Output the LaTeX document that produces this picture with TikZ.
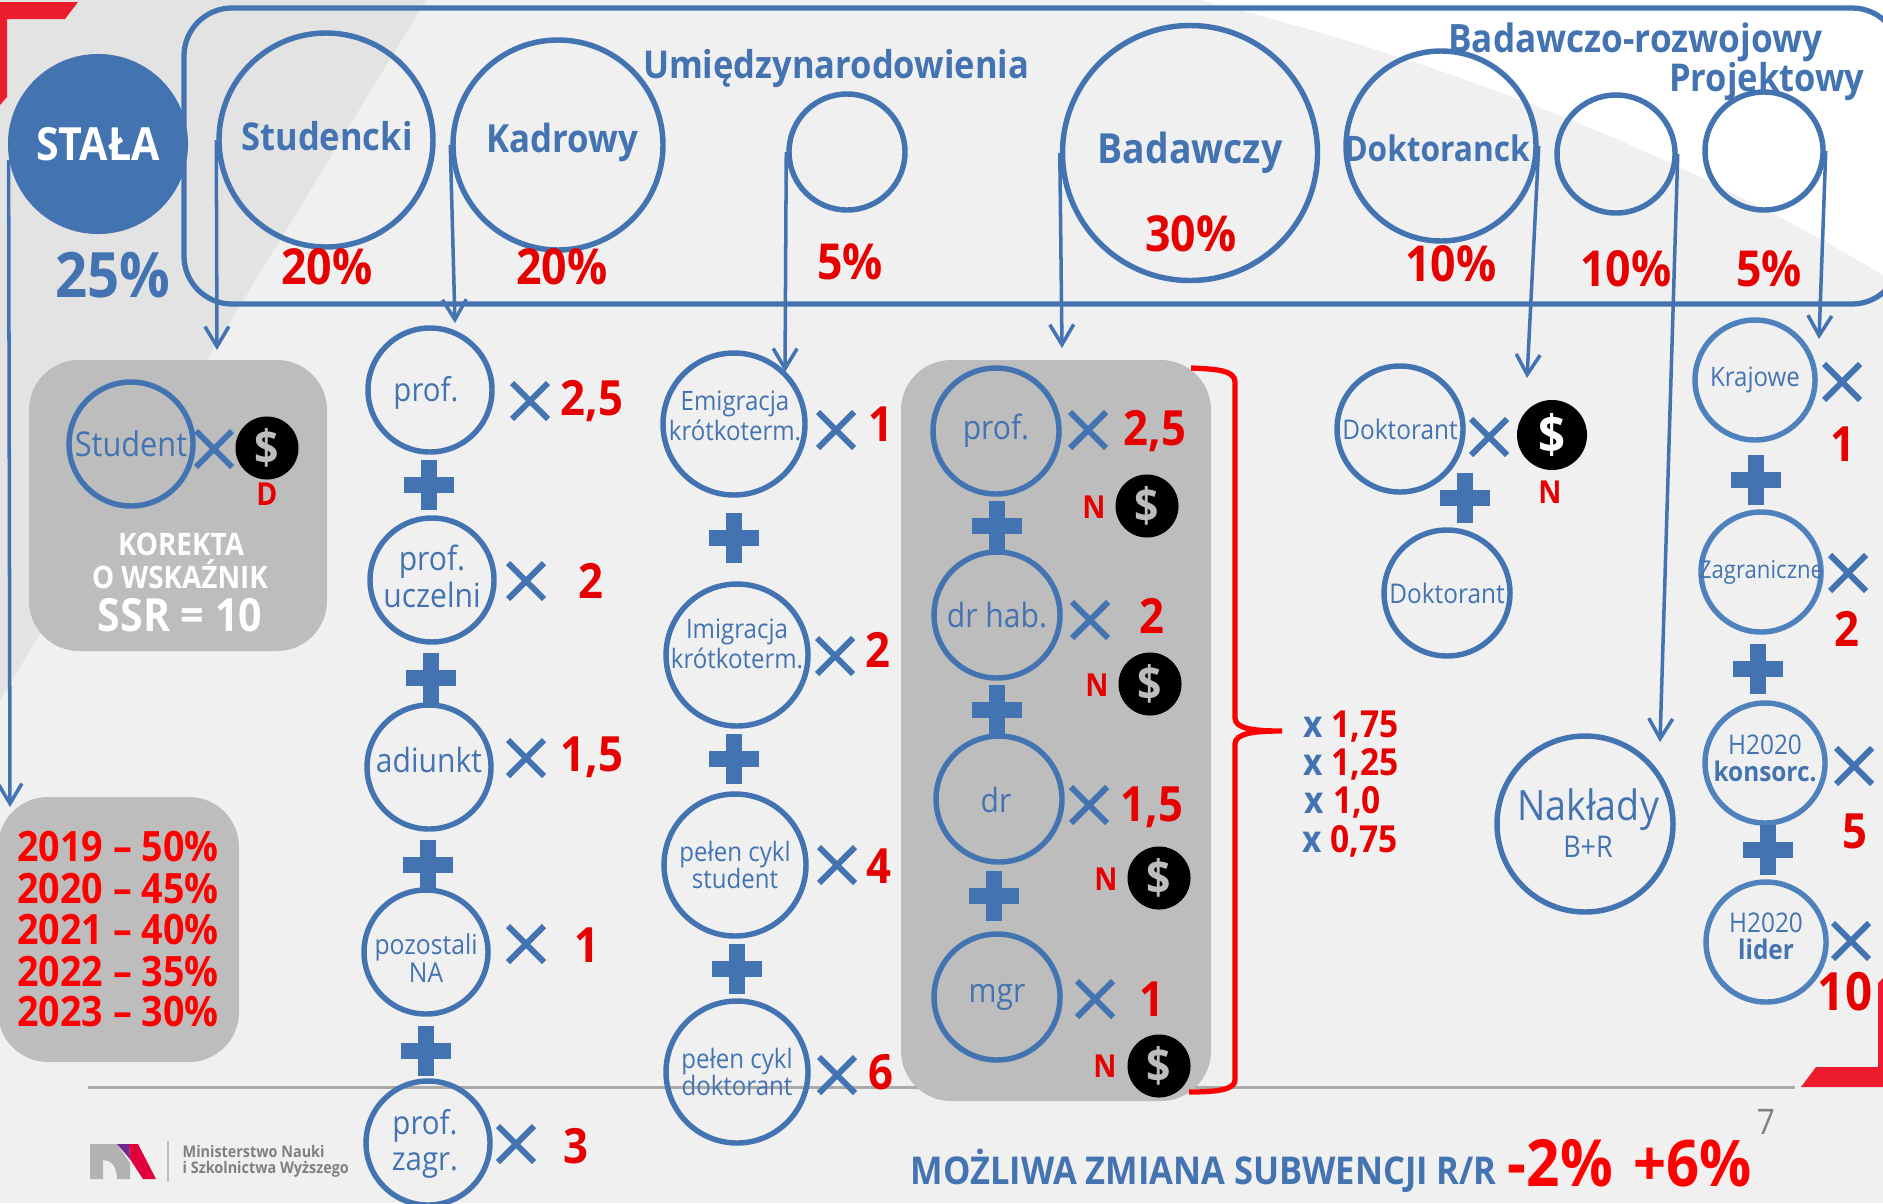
\documentclass[tikz,border=0pt]{standalone}
\usepackage{fontspec}
\setmainfont[FakeStretch=0.9]{Open Sans}
\usetikzlibrary{arrows.meta,shapes.misc}
\definecolor{bluemain}{HTML}{4373B1}
\definecolor{bluelight}{HTML}{4F81BD}
\definecolor{redmain}{HTML}{E60000}
\definecolor{redpure}{HTML}{FF0000}
\definecolor{redbar}{HTML}{EC1C2D}
\definecolor{greybox}{HTML}{BDBDBD}
\newcommand{\fsz}[1]{\fontsize{#1pt}{#1pt}\selectfont}
\tikzset{
  ring/.style={circle,draw=bluemain,line width=1.55pt,inner sep=0pt,text=bluemain,align=center,minimum size=#1*0.01cm},
  ringlight/.style={ring=#1,draw=bluelight},
  ringtxt/.style={text=bluemain,align=center,inner sep=0pt},
  title/.style={text=bluemain,font=\fsz{10.9}\bfseries,inner sep=0pt},
  percent/.style={text=redmain,font=\fsz{14.1}\bfseries,inner sep=0pt},
  val/.style={text=redmain,font=\fsz{13.8}\bfseries,inner sep=0pt},
  letter/.style={text=redmain,font=\fsz{9}\bfseries,inner sep=0pt},
  times/.style={cross out,draw=bluemain,line width=1.7pt,minimum size=0.3cm,inner sep=0pt},
  dollar/.style={circle,fill=black,text=#1,inner sep=0pt,minimum size=0.63cm,font=\fsz{13.5}\bfseries},
  arr/.style={draw=bluemain,line width=1pt,-{Straight Barb[length=5.7pt,width=6.8pt]}},
  plusmark/.pic={\fill[bluemain] (-25,-8) rectangle (25,8); \fill[bluemain] (-8,-25) rectangle (8,25);},
  year/.style={text=redpure,font=\fsz{11.9}\bfseries,inner sep=0pt},
  factor/.style={text=redmain,font=\fsz{10.6}\bfseries,inner sep=0pt}
}
\begin{document}
\begin{tikzpicture}[x=0.01cm,y=-0.01cm]
\useasboundingbox (0,0) rectangle (1883,1203);
\clip (0,0) rectangle (1883,1203);
\fill[fill={rgb,255:red,240;green,240;blue,240}] (0,0) rectangle (1883,1203);
\fill[fill={rgb,255:red,228;green,227;blue,228}] (0,0) -- (426,0) -- (0,700) -- cycle;
\fill[white] (1200,0) .. controls (1400,50) and (1640,130) .. (1883,275) -- (1883,0) -- cycle;
\fill[redbar] (0,2) -- (78,2) -- (65,19) -- (7,19) -- (7,97) -- (0,105) -- cycle;
\fill[redbar] (1883,978) -- (1878,983) -- (1878,1067) -- (1816,1067) -- (1801,1087) -- (1883,1087) -- cycle;
\draw[greybox!90!black,line width=.85pt] (88,1087) -- (1795,1087);

\draw[bluemain,line width=1.5pt,rounded corners=48*0.01cm] (184,8) rectangle (1900,304);
\fill[greybox,rounded corners=0.5cm] (29,360) rectangle (327,651);
\fill[greybox,rounded corners=0.5cm] (-2,797) rectangle (239,1062);
\fill[greybox,rounded corners=0.5cm] (901,360) rectangle (1211,1101);

\node[circle,fill=bluemain,text=white,inner sep=0pt,minimum size=1.8cm,font=\fsz{13}\bfseries] (stala) at (98,144) {STAŁA};
\node[ring=214] (studencki) at (326,140) {};
\node[ring=210] (kadrowy) at (558,145) {};
\node[ring=116] (umiedzy) at (847,152) {};
\node[ring=255,title,font=\fsz{11.8}\bfseries] (badawczy) at (1190,153) {Badawczy};
\node[ring=190] (doktorancki) at (1441,146) {};
\node[ring=118] (rozwojowy) at (1616,154) {};
\node[ring=118] (projektowy) at (1764,151) {};
\node[title] (studenckitxt) at (327,136) {Studencki};
\node[title,font=\fsz{11}\bfseries] (kadrowytxt) at (562,142) {Kadrowy};
\node[title,font=\fsz{10}\bfseries] (doktorancktxt) at (1437,148) {Doktoranck};
\node[title] (umiedzytxt) at (836,69) {Umiędzynarodowienia};
\node[title,font=\fsz{11.1}\bfseries,anchor=east] (rozwojtxt) at (1823,42) {Badawczo-rozwojowy};
\node[title,font=\fsz{10.9}\bfseries,anchor=east] (projekttxt) at (1865,82) {Projektowy};

\node[title,font=\fsz{17.8}\bfseries] (p25) at (113,275) {25\%};
\node[percent] (p20a) at (327,267) {20\%};
\node[percent] (p20b) at (562,267) {20\%};
\node[percent] (p5a) at (850,262) {5\%};
\node[percent] (p30) at (1191,234) {30\%};
\node[percent] (p10a) at (1451,264) {10\%};
\node[percent] (p10b) at (1626,269) {10\%};
\node[percent] (p5b) at (1769,269) {5\%};

\node[ring=124,font=\fsz{9.7}] (student) at (131,444) {Student};
\node[times] (xstudent) at (214,449) {};
\node[dollar=greybox] (dstudent) at (267,448) {\$};
\node[letter] (dletter) at (267,494) {D};
\node[text=white,font=\fsz{8.8}\bfseries,inner sep=0pt] (korekta) at (181,544) {KOREKTA};
\node[text=white,font=\fsz{8.8}\bfseries,inner sep=0pt] (wskaznik) at (180,574) {O WSKAŹNIK};
\node[text=white,font=\fsz{13}\bfseries,inner sep=0pt] (ssr) at (180,615) {SSR = 10};

\node[year] (y19) at (118,847) {2019 – 50\%};
\node[year] (y20) at (118,889) {2020 – 45\%};
\node[year] (y21) at (118,930) {2021 – 40\%};
\node[year] (y22) at (118,972) {2022 – 35\%};
\node[year] (y23) at (118,1012) {2023 – 30\%};

\node[ring=124] (kprof) at (430,390) {};
\node[ring=124] (kuczelni) at (432,580) {};
\node[ring=124] (kadiunkt) at (429,767) {};
\node[ring=124] (kna) at (426,952) {};
\node[ring=124] (kzagr) at (428,1143) {};
\node[ringtxt,font=\fsz{9.3}] (kproftxt) at (426,393) {prof.};
\node[ringtxt,font=\fsz{9.5}] (kuczelnitxt) at (432,576) {prof.\\[1pt]uczelni};
\node[ringtxt,font=\fsz{9.5}] (kadiunkttxt) at (429,760) {adiunkt};
\node[ringtxt,font=\fsz{7.8}] (knatxt) at (426,958) {pozostali\\NA};
\node[ringtxt,font=\fsz{9.3}] (kzagrtxt) at (425,1144) {prof.\\[1pt]zagr.};
\node[times] (xa) at (530,401) {}; \node[val] (va) at (592,401) {2,5};
\node[times] (xb) at (526,581) {}; \node[val] (vb) at (591,581) {2};
\node[times] (xc) at (526,758) {}; \node[val] (vc) at (592,757) {1,5};
\node[times] (xd) at (526,944) {}; \node[val] (vd) at (587,945) {1};
\node[times] (xe) at (516,1144) {}; \node[val] (ve) at (576,1146) {3};
\pic at (429,485) {plusmark}; \pic at (431,678) {plusmark}; \pic at (428,865) {plusmark}; \pic at (426,1051) {plusmark};

\node[ring=142] (emigracja) at (734,424) {};
\node[ring=142] (imigracja) at (737,655) {};
\node[ring=142,font=\fsz{7.6}] (cyklstudent) at (735,865) {pełen cykl\\student};
\node[ring=142,font=\fsz{7.6}] (cykldoktorant) at (737,1072) {pełen cykl\\doktorant};
\node[ringtxt,font=\fsz{7.6}] (emigracjatxt) at (735,416) {Emigracja\\krótkoterm.};
\node[ringtxt,font=\fsz{7.6}] (imigracjatxt) at (737,644) {Imigracja\\krótkoterm.};
\node[times] (xf) at (836,430) {}; \node[val] (vf) at (881,424) {1};
\node[times] (xg) at (835,656) {}; \node[val] (vg) at (878,650) {2};
\node[times] (xh) at (837,865) {}; \node[val] (vh) at (879,866) {4};
\node[times] (xi) at (837,1075) {}; \node[val] (vi) at (881,1072) {6};
\pic at (734,538) {plusmark}; \pic at (734,759) {plusmark}; \pic at (737,969) {plusmark};

\node[ring=126,font=\fsz{9.5}] (bprof) at (996,431) {prof.};
\node[ring=126,font=\fsz{9.5}] (bhab) at (997,615) {dr hab.};
\node[ring=126] (bdr) at (999,799) {};
\node[ring=126,font=\fsz{9.5}] (bmgr) at (997,997) {mgr};
\node[ringtxt,font=\fsz{9.5}] (bdrtxt) at (996,800) {dr};
\node[times] (xj) at (1088,430) {}; \node[val] (vj) at (1155,431) {2,5};
\node[times] (xk) at (1090,620) {}; \node[val] (vk) at (1152,616) {2};
\node[times] (xl) at (1089,805) {}; \node[val] (vl) at (1152,807) {1,5};
\node[times] (xm) at (1095,999) {}; \node[val] (vm) at (1152,999) {1};
\node[letter] (na) at (1094,507) {N}; \node[dollar=greybox] (da) at (1147,506) {\$};
\node[letter] (nb) at (1097,685) {N}; \node[dollar=greybox] (db) at (1150,684) {\$};
\node[letter] (nc) at (1106,879) {N}; \node[dollar=greybox] (dc) at (1159,878) {\$};
\node[letter] (nd) at (1105,1066) {N}; \node[dollar=greybox] (dd) at (1159,1066) {\$};
\pic at (997,526) {plusmark}; \pic at (997,710) {plusmark}; \pic at (994,896) {plusmark};

\draw[redpure,line width=1.5pt] (1191,368) .. controls (1215,369) and (1235,370) .. (1235,382) -- (1235,718) .. controls (1235,729) and (1255,731) .. (1282,731) .. controls (1255,731) and (1235,733) .. (1235,744) -- (1235,1080) .. controls (1235,1090) and (1215,1092) .. (1189,1092);
\node[factor] (fa) at (1351,727) {\textcolor{bluemain}{x} 1,75};
\node[factor] (fb) at (1351,764) {\textcolor{bluemain}{x} 1,25};
\node[factor] (fc) at (1343,802) {\textcolor{bluemain}{x} 1,0};
\node[factor] (fd) at (1350,841) {\textcolor{bluemain}{x} 0,75};

\node[ring=126,font=\fsz{7.7}] (doktoranta) at (1400,429) {Doktorant};
\node[ring=126,font=\fsz{7.7}] (doktorantb) at (1447,593) {Doktorant};
\node[times] (xn) at (1489,437) {};
\node[dollar=white,minimum size=0.7cm,font=\fsz{15}\bfseries] (de) at (1552,435) {\$};
\node[letter] (ne) at (1550,492) {N};
\pic at (1465,498) {plusmark};
\node[ring=176] (naklady) at (1585,824) {};
\node[ringtxt,font=\fsz{11.9}] (nakladytxt) at (1588,810) {Nakłady};
\node[ringtxt,font=\fsz{8.5}] (brtxt) at (1588,847) {B+R};

\node[ringlight=120,font=\fsz{7.6}] (krajowe) at (1755,380) {Krajowe};
\node[ringlight=120,font=\fsz{7}] (zagraniczne) at (1761,572) {\makebox[0pt]{Zagraniczne}};
\node[ringlight=120] (konsorc) at (1765,763) {};
\node[ringlight=120] (lider) at (1766,942) {};
\node[ringtxt,font=\fsz{7.7}] (konsorctxt) at (1765,758) {H2020\\\textbf{konsorc.}};
\node[ringtxt,font=\fsz{7.7}] (lidertxt) at (1766,936) {H2020\\\textbf{lider}};
\node[times] (xo) at (1842,382) {}; \node[val] (vo) at (1843,444) {1};
\node[times] (xp) at (1848,573) {}; \node[val] (vp) at (1847,629) {2};
\node[times] (xq) at (1854,766) {}; \node[val] (vq) at (1855,831) {5};
\node[times] (xr) at (1851,941) {}; \node[val,font=\fsz{15}\bfseries] (vr) at (1845,992) {10};
\pic at (1756,480) {plusmark}; \pic at (1758,669) {plusmark}; \pic at (1768,850) {plusmark};

\coordinate (estala) at (10,807); \coordinate (estudencki) at (217,350);
\coordinate (ekadrowy) at (455,323); \coordinate (eumiedzy) at (785,372);
\coordinate (ebadawczy) at (1062,348); \coordinate (edoktor) at (1527,378);
\coordinate (erozwoj) at (1660,742); \coordinate (eprojekt) at (1819,339);
\draw[arr] (stala.190) -- (estala);
\draw[arr] (studencki.west) -- (estudencki);
\draw[arr] (kadrowy.west) -- (ekadrowy);
\draw[arr] (umiedzy.west) -- (eumiedzy);
\draw[arr] (badawczy.west) -- (ebadawczy);
\draw[arr] (doktorancki.east) -- (edoktor);
\draw[arr] (rozwojowy.east) -- (erozwoj);
\draw[arr] (projektowy.east) -- (eprojekt);

\fill[fill={rgb,255:red,178;green,178;blue,178}] (90,1144) -- (117,1144) -- (130,1163) -- (130,1179) -- (117,1179) .. controls (117,1165) and (110,1160) .. (103,1160) -- (103,1179) -- (90,1179) -- cycle;
\fill[fill={rgb,255:red,224;green,0;blue,60}] (129,1144) -- (138,1144) -- (156,1179) -- (143,1179) -- (130,1159) -- cycle;
\fill[fill={rgb,255:red,112;green,40;blue,140}] (117,1144) -- (129,1144) -- (130,1159) -- cycle;
\draw[greybox,line width=.3pt] (168,1141) -- (168,1182);
\node[text=gray,font=\fsz{4.55}\bfseries,anchor=west,inner sep=0pt] (mina) at (182,1151) {Ministerstwo Nauki};
\node[text=gray,font=\fsz{4.55}\bfseries,anchor=west,inner sep=0pt] (minb) at (182,1169) {i Szkolnictwa Wyższego};
\node[title,anchor=west] (zmiana) at (910,1171) {MOŻLIWA ZMIANA SUBWENCJI R/R};
\node[text=redpure,font=\fsz{18.5}\bfseries,anchor=west,inner sep=0pt] (minus) at (1507,1163) {-2\%};
\node[text=redpure,font=\fsz{18.3}\bfseries,anchor=west,inner sep=0pt] (plus) at (1633,1163) {+6\%};
\node[text=gray,font=\fsz{10},inner sep=0pt] (page) at (1766,1122) {7};
\end{tikzpicture}
\end{document}
